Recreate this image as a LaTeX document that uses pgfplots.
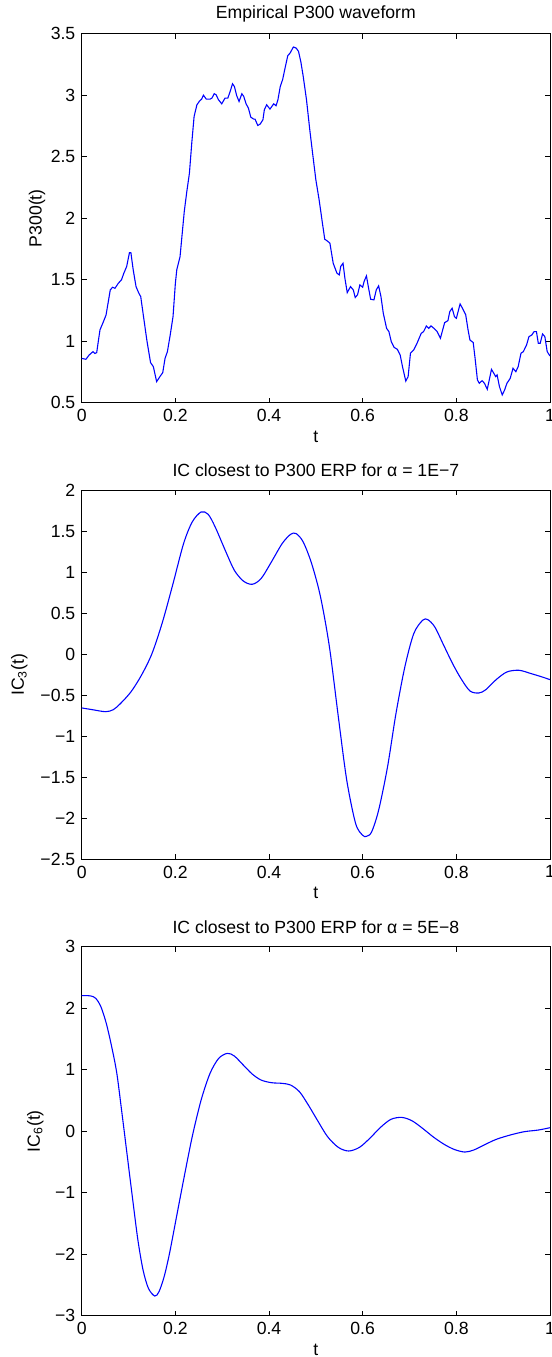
\documentclass[border=0pt]{standalone}
\usepackage{fontspec}
\setmainfont{Liberation Sans}
\usepackage{pgfplots}
\pgfplotsset{compat=1.18}

% one pixel of the reference = 0.55pt
\newcommand{\lblfont}{\fontsize{9.7}{11.6}\selectfont}

\pgfplotsset{
  erp/.style={
    width=257.57pt, height=202.95pt, scale only axis,
    xmin=0, xmax=1,
    xtick={0,0.2,0.4,0.6,0.8,1},
    xticklabels={0,0.2,0.4,0.6,0.8,1},
    tick align=inside,
    major tick length=2.75pt,
    tick style={black, line width=0.5pt},
    axis line style={line width=0.55pt},
    tick label style={font=\lblfont},
    label style={font=\lblfont},
    every axis title shift=0pt,
    title style={font=\lblfont, at={(axis description cs:0.5,1)}, anchor=center, yshift=11pt},
    xlabel={t},
    xlabel style={at={(axis description cs:0.5,0)}, anchor=center, yshift=-18.7pt},
    /pgf/number format/assume math mode=true,
  },
  erpline/.style={color={rgb,1:red,0;green,0;blue,1}, line width=0.6pt},
}

\pgfplotstableread{
t y
0.000 0.860
0.009 0.853
0.016 0.888
0.024 0.915
0.028 0.900
0.032 0.907
0.039 1.092
0.045 1.146
0.052 1.213
0.061 1.417
0.066 1.439
0.071 1.430
0.078 1.470
0.085 1.500
0.090 1.553
0.096 1.607
0.102 1.720
0.105 1.720
0.110 1.580
0.116 1.444
0.122 1.390
0.126 1.363
0.132 1.200
0.139 1.010
0.147 0.826
0.153 0.793
0.160 0.671
0.167 0.712
0.173 0.744
0.178 0.861
0.183 0.915
0.189 1.051
0.195 1.200
0.200 1.470
0.203 1.580
0.210 1.688
0.214 1.851
0.219 2.054
0.224 2.204
0.230 2.366
0.235 2.610
0.240 2.827
0.246 2.922
0.251 2.949
0.256 2.968
0.260 3.000
0.266 2.968
0.274 2.968
0.278 2.976
0.283 3.012
0.287 3.004
0.292 2.963
0.299 2.930
0.306 2.976
0.312 2.976
0.317 3.030
0.322 3.093
0.326 3.071
0.331 2.996
0.336 2.949
0.342 3.012
0.346 2.990
0.351 2.930
0.356 2.895
0.361 2.822
0.367 2.806
0.370 2.806
0.376 2.754
0.381 2.765
0.387 2.800
0.390 2.882
0.395 2.922
0.402 2.887
0.410 2.930
0.415 2.914
0.419 2.963
0.424 3.071
0.429 3.126
0.435 3.234
0.440 3.321
0.445 3.343
0.452 3.392
0.458 3.383
0.463 3.356
0.468 3.270
0.473 3.153
0.480 2.963
0.487 2.719
0.493 2.529
0.500 2.312
0.507 2.149
0.514 1.960
0.519 1.829
0.524 1.816
0.530 1.797
0.537 1.634
0.545 1.553
0.550 1.539
0.553 1.607
0.558 1.634
0.562 1.512
0.567 1.395
0.574 1.444
0.580 1.417
0.584 1.355
0.589 1.377
0.594 1.458
0.600 1.439
0.603 1.485
0.608 1.531
0.612 1.444
0.617 1.341
0.624 1.336
0.629 1.417
0.634 1.450
0.639 1.363
0.644 1.227
0.651 1.105
0.656 1.078
0.661 0.997
0.667 0.950
0.674 0.934
0.680 0.888
0.685 0.793
0.692 0.676
0.697 0.712
0.702 0.902
0.709 0.929
0.716 0.983
0.725 1.064
0.730 1.078
0.736 1.124
0.741 1.105
0.746 1.124
0.752 1.105
0.759 1.078
0.766 1.024
0.775 1.151
0.782 1.167
0.786 1.241
0.791 1.268
0.796 1.200
0.800 1.186
0.808 1.303
0.813 1.268
0.820 1.214
0.825 1.092
0.829 1.010
0.836 0.989
0.840 0.861
0.845 0.685
0.849 0.658
0.855 0.679
0.860 0.658
0.866 0.609
0.871 0.698
0.875 0.771
0.880 0.739
0.884 0.712
0.887 0.726
0.892 0.631
0.898 0.563
0.903 0.603
0.908 0.658
0.915 0.698
0.921 0.780
0.927 0.752
0.932 0.793
0.938 0.902
0.943 0.915
0.950 0.970
0.955 1.037
0.961 1.050
0.966 1.078
0.971 1.078
0.975 0.983
0.979 0.983
0.984 1.059
0.989 1.037
0.994 0.915
1.000 0.880
}\pthree

\pgfplotstableread{
t y
0.000 -0.654
0.0225 -0.675
0.051 -0.700
0.0675 -0.675
0.0825 -0.602
0.105 -0.459
0.1275 -0.256
0.150 0.008
0.1725 0.394
0.195 0.862
0.2175 1.350
0.236 1.614
0.255 1.736
0.270 1.707
0.285 1.553
0.308 1.248
0.326 1.024
0.345 0.894
0.364 0.854
0.383 0.923
0.405 1.126
0.428 1.350
0.446 1.463
0.458 1.472
0.473 1.370
0.491 1.106
0.510 0.699
0.529 0.089
0.548 -0.764
0.566 -1.537
0.585 -2.065
0.600 -2.207
0.608 -2.220
0.619 -2.167
0.634 -1.902
0.653 -1.374
0.671 -0.724
0.690 -0.154
0.709 0.252
0.728 0.415
0.739 0.423
0.754 0.333
0.773 0.110
0.792 -0.114
0.810 -0.297
0.829 -0.447
0.848 -0.472
0.863 -0.431
0.885 -0.309
0.908 -0.215
0.934 -0.195
0.960 -0.236
0.983 -0.276
1.000 -0.309
}\icthree

\pgfplotstableread{
t y
0.000 2.205
0.019 2.200
0.030 2.160
0.041 2.024
0.0525 1.753
0.064 1.374
0.075 0.940
0.086 0.290
0.0975 -0.415
0.109 -1.119
0.120 -1.770
0.131 -2.257
0.1425 -2.556
0.156 -2.680
0.165 -2.610
0.176 -2.366
0.1875 -1.987
0.2025 -1.390
0.2175 -0.794
0.236 -0.089
0.255 0.507
0.274 0.940
0.2925 1.184
0.311 1.266
0.326 1.222
0.345 1.076
0.364 0.930
0.383 0.832
0.405 0.789
0.428 0.778
0.446 0.751
0.465 0.642
0.484 0.425
0.503 0.182
0.525 -0.089
0.548 -0.263
0.570 -0.322
0.593 -0.263
0.615 -0.117
0.638 0.062
0.660 0.192
0.683 0.225
0.705 0.171
0.728 0.046
0.750 -0.089
0.773 -0.209
0.795 -0.295
0.818 -0.339
0.837 -0.306
0.859 -0.225
0.885 -0.133
0.915 -0.062
0.945 -0.008
0.975 0.019
1.000 0.057
}\icsix

\begin{document}
\begin{tikzpicture}
\begin{axis}[erp,
  at={(0pt,0pt)},
  ymin=0.5, ymax=3.5,
  ytick={0.5,1,1.5,2,2.5,3,3.5},
  yticklabels={0.5,1,1.5,2,2.5,3,3.5},
  title={Empirical P300 waveform},
  ylabel={P300(t)},
  ylabel style={at={(axis description cs:-0.0955,0.5)}, anchor=center},
]
\addplot[erpline] table[x=t, y=y] {\pthree};
\end{axis}

\begin{axis}[erp,
  at={(0pt,-251.13pt)},
  ymin=-2.5, ymax=2,
  ytick={-2.5,-2,-1.5,-1,-0.5,0,0.5,1,1.5,2},
  yticklabels={−2.5,−2,−1.5,−1,−0.5,0,0.5,1,1.5,2},
  title={IC closest to P300 ERP for α = 1E−7},
  ylabel={IC\textsubscript{3}(t)},
  ylabel style={at={(axis description cs:-0.133,0.5)}, anchor=center},
]
\addplot[erpline, smooth] table[x=t, y=y] {\icthree};
\end{axis}

\begin{axis}[erp,
  at={(0pt,-502.15pt)},
  ymin=-3, ymax=3,
  ytick={-3,-2,-1,0,1,2,3},
  yticklabels={−3,−2,−1,0,1,2,3},
  title={IC closest to P300 ERP for α = 5E−8},
  ylabel={IC\textsubscript{6}(t)},
  ylabel style={at={(axis description cs:-0.0993,0.5)}, anchor=center},
]
\addplot[erpline, smooth] table[x=t, y=y] {\icsix};
\end{axis}

\pgfresetboundingbox
\path[use as bounding box] (-44.94pt,-524.87pt) rectangle (258.12pt,221.49pt);
\end{tikzpicture}
\end{document}
